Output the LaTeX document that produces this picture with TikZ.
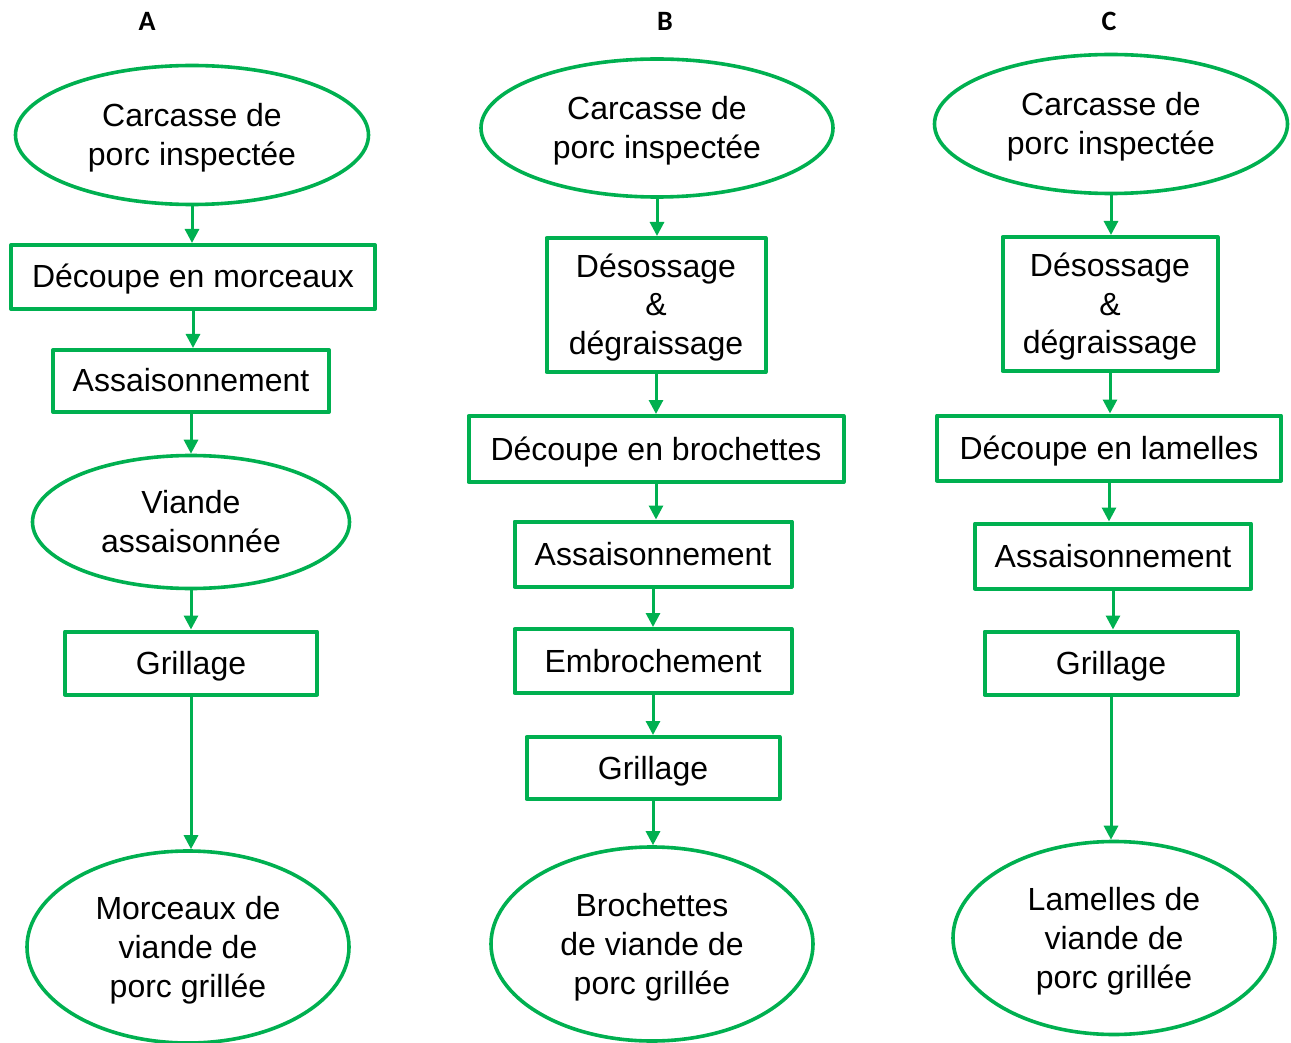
\documentclass[tikz,border=0pt]{standalone}
\usepackage{fontspec}
\setmainfont{Liberation Sans}
\newfontfamily\titlefont{Carlito}
\usetikzlibrary{arrows.meta,shapes.geometric}
\definecolor{flowgreen}{RGB}{0,176,80}

\begin{document}
\begin{tikzpicture}[x=0.5pt,y=-0.5pt,line cap=round,line join=round,
    every node/.style={font=\fontsize{16}{19.5}\selectfont,align=center,inner sep=0pt},
    fixtext/.style={execute at begin node={\rule{0pt}{15.5pt}},execute at end node={\rule[-4.5pt]{0pt}{4.5pt}}},
    lines/.style={execute at begin node={\rule{0pt}{#1}}},
    proc/.style={fixtext,draw=flowgreen,line width=2pt,rectangle},
    prod/.style={fixtext,draw=flowgreen,line width=1.8pt,ellipse},
    flow/.style={draw=flowgreen,line width=1.5pt,-{Triangle[width=7pt,length=7pt]}},
    coltitle/.style={font=\titlefont\bfseries\fontsize{14}{16}\selectfont}]
                \useasboundingbox (0,0) rectangle (1291,1043);
                % column A
                \node[coltitle] (ta) at (147,21) {A};
                \node[prod,lines=35pt,minimum width=176.5pt,minimum height=69.5pt] (a1) at (192,135) {Carcasse de\\porc inspectée};
                \node[proc,minimum width=182pt,minimum height=32pt] (a2) at (193,277) {Découpe en morceaux};
                \node[proc,minimum width=138pt,minimum height=31pt] (a3) at (191,381) {Assaisonnement};
                \node[prod,lines=35pt,minimum width=158.5pt,minimum height=66.5pt] (a4) at (191,522) {Viande\\assaisonnée};
                \node[proc,minimum width=126pt,minimum height=31.5pt] (a5) at (191,663) {Grillage};
                \node[prod,lines=54.5pt,minimum width=161pt,minimum height=96pt] (a6) at (188,947) {Morceaux de\\viande de\\porc grillée};
                % column B
                \node[coltitle] (tb) at (665,21) {B};
                \node[prod,lines=35pt,minimum width=176pt,minimum height=69pt] (b1) at (657,128) {Carcasse de\\porc inspectée};
                \node[proc,lines=54.5pt,minimum width=109.5pt,minimum height=67pt] (b2) at (656,305) {Désossage\\\&\\dégraissage};
                \node[proc,minimum width=187.5pt,minimum height=33pt] (b3) at (656,449) {Découpe en brochettes};
                \node[proc,minimum width=138.5pt,minimum height=32.5pt] (b4) at (653,554) {Assaisonnement};
                \node[proc,minimum width=138.5pt,minimum height=32pt] (b5) at (653,661) {Embrochement};
                \node[proc,minimum width=126.5pt,minimum height=31pt] (b6) at (653,768) {Grillage};
                \node[prod,lines=54.5pt,minimum width=161pt,minimum height=97pt] (b7) at (652,944) {Brochettes\\de viande de\\porc grillée};
                % column C
                \node[coltitle] (tc) at (1109,21) {C};
                \node[prod,lines=35pt,minimum width=176.5pt,minimum height=69.5pt] (c1) at (1111,124) {Carcasse de\\porc inspectée};
                \node[proc,lines=54.5pt,minimum width=107.5pt,minimum height=67pt] (c2) at (1110,304) {Désossage\\\&\\dégraissage};
                \node[proc,minimum width=172pt,minimum height=32.5pt] (c3) at (1109,448) {Découpe en lamelles};
                \node[proc,minimum width=138pt,minimum height=32.5pt] (c4) at (1113,556) {Assaisonnement};
                \node[proc,minimum width=126.5pt,minimum height=31.5pt] (c5) at (1111,663) {Grillage};
                \node[prod,lines=54.5pt,minimum width=161pt,minimum height=96.5pt] (c6) at (1114,938) {Lamelles de\\viande de\\porc grillée};
                % arrows
                \foreach \u/\v in {a1/a2,a2/a3,a3/a4,a4/a5,a5/a6,
                                   b1/b2,b2/b3,b3/b4,b4/b5,b5/b6,b6/b7,
                                   c1/c2,c2/c3,c3/c4,c4/c5,c5/c6}
                    \draw[flow] (\u) -- (\u |- \v.north);
            \end{tikzpicture}
\end{document}
